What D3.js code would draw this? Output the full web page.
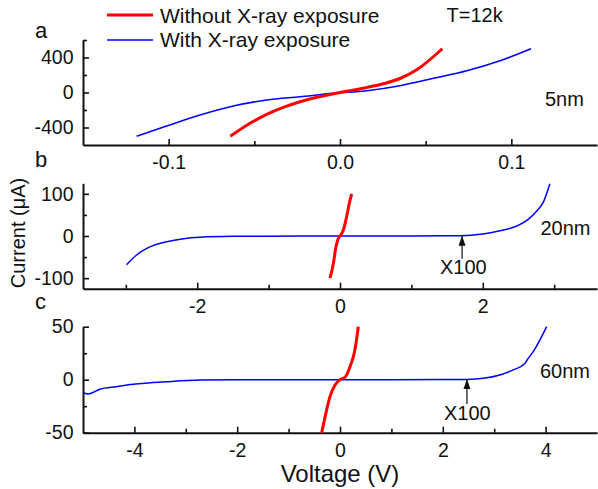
<!DOCTYPE html>
<html>
<head>
<meta charset="utf-8">
<script src="https://cdn.jsdelivr.net/npm/d3@7"></script>
<style>
  html, body { margin: 0; padding: 0; background: #fff; }
  svg { display: block; font-family: "Liberation Sans", Arial, sans-serif; }
  .axis path, .axis line { stroke: #111; }
  .axis path { stroke-width: 2; }
  .axis line { stroke-width: 1.6; }
  .axis text { font-size: 19.5px; fill: #111; font-family: "Liberation Sans", Arial, sans-serif; }
</style>
</head>
<body>
<svg id="chart" width="598" height="489"></svg>
<script>
// Panel a: 5 nm, T = 12 K
const voltA_without = [-0.064, -0.0525, -0.0428, -0.0331, -0.0233, -0.01, 0.0, 0.0058, 0.015, 0.0253, 0.035, 0.0448, 0.0597];
const currA_without = [-500, -352, -249, -169, -105, -40, 0, 20, 55, 100, 160, 260, 500];
const voltA_with = [-0.1187, -0.1012, -0.0817, -0.0623, -0.0428, -0.0233, -0.004, 0.0156, 0.035, 0.0545, 0.074, 0.0934, 0.1115];
const currA_with = [-500, -383, -257, -154, -86, -48, -9, 21, 78, 162, 249, 363, 500];

// Panel b: 20 nm (with-exposure curve multiplied by 100)
const voltB_without = [-0.14, -0.093, -0.056, -0.023, 0, 0.047, 0.093, 0.131, 0.164];
const currB_without = [-100, -65, -25, -5.5, 0, 14, 46, 78, 100];
const voltB_with = [-2.99, -2.85, -2.68, -2.43, -2.19, -1.96, -1.49, -1.0, 0, 1.0, 1.68, 2.0, 2.24, 2.43, 2.64, 2.75, 2.85, 2.94];
const currB_with = [-68, -45, -27, -13.5, -6.3, -3, -0.8, -0.3, 0, 0.2, 0.7, 5, 12.6, 20.6, 40, 58, 81, 124];

// Panel c: 60 nm (with-exposure curve multiplied by 100)
const voltC_without = [-0.356, -0.29, -0.195, -0.097, 0, 0.097, 0.195, 0.29, 0.356];
const currC_without = [-50, -35, -16, -5, 0, 2.3, 12.3, 28, 50];
const voltC_with = [-4.99, -4.9, -4.67, -4.35, -4.02, -3.37, -2.72, -2, 0, 2, 2.46, 2.79, 3.11, 3.37, 3.6, 3.64, 3.76, 3.89, 4.02];
const currC_with = [-12.3, -13.5, -9, -6.6, -4.4, -1.9, -0.3, -0.1, 0, 0.1, 0.3, 1.3, 4.4, 9.2, 15.5, 18.6, 26.4, 37.5, 50];

// Tick values
const ticksA_x = [-0.1, 0.0, 0.1], minorA_x = [-0.05, 0.05];
const ticksA_y = [-400, 0, 400], minorA_y = [-200, 200, 600];
const ticksB_x = [-2, 0, 2], minorB_x = [-3, -1, 1, 3];
const ticksB_y = [-100, 0, 100], minorB_y = [-50, 50];
const ticksC_x = [-4, -2, 0, 2, 4], minorC_x = [-3, -1, 1, 3];
const ticksC_y = [-50, 0, 50], minorC_y = [-25, 25];

const seriesNames = ["Without X-ray exposure", "With X-ray exposure"];
const colors = { without: "#ff0000", with: "#0000ff" };

// plain hyphen for negative numbers
const hyph = f => v => f(v).replace("\u2212", "-");

const svg = d3.select("#chart");
const X0 = 83, X1 = 597;

const panels = [
  { letter: "a", letterY: 37.5, xd: [-0.15, 0.15], yd: [-600, 600], yr: [145, 40],
    xt: ticksA_x, xm: minorA_x, yt: ticksA_y, ym: minorA_y, xfmt: hyph(d3.format(".1f")),
    wo: [voltA_without, currA_without], wi: [voltA_with, currA_with],
    label: "5nm", labelPos: [545, 106], arrowV: null },
  { letter: "b", letterY: 166.5, xd: [-3.6, 3.6], yd: [-125, 125], yr: [288.7, 183.3],
    xt: ticksB_x, xm: minorB_x, yt: ticksB_y, ym: minorB_y, xfmt: hyph(d3.format("d")),
    wo: [voltB_without, currB_without], wi: [voltB_with, currB_with],
    label: "20nm", labelPos: [540.5, 235], arrowV: 1.71, arrowLen: 23, x100: [440, 274] },
  { letter: "c", letterY: 309, xd: [-5, 5], yd: [-50, 50], yr: [432.7, 326.7],
    xt: ticksC_x, xm: minorC_x, yt: ticksC_y, ym: minorC_y, xfmt: hyph(d3.format("d")),
    wo: [voltC_without, currC_without], wi: [voltC_with, currC_with],
    label: "60nm", labelPos: [540, 378.3], arrowV: 2.47, arrowLen: 25, x100: [444, 420] }
];

// arrowhead marker
svg.append("defs").append("marker")
  .attr("id", "head").attr("viewBox", "0 0 10 10")
  .attr("refX", 10).attr("refY", 5)
  .attr("markerWidth", 10).attr("markerHeight", 10)
  .attr("markerUnits", "userSpaceOnUse")
  .attr("orient", "auto")
  .append("path").attr("d", "M0,1.5 L10,5 L0,8.5 Z").attr("fill", "#111");

panels.forEach(p => {
  const x = d3.scaleLinear().domain(p.xd).range([X0, X1]);
  const y = d3.scaleLinear().domain(p.yd).range(p.yr);
  const g = svg.append("g");

  // minor ticks
  g.append("g").attr("class", "axis").attr("transform", `translate(0,${p.yr[0]})`)
    .call(d3.axisBottom(x).tickValues(p.xm).tickSizeInner(-4).tickSizeOuter(0).tickFormat(""))
    .call(s => s.select(".domain").remove());
  g.append("g").attr("class", "axis").attr("transform", `translate(${X0},0)`)
    .call(d3.axisLeft(y).tickValues(p.ym).tickSizeInner(-4).tickSizeOuter(0).tickFormat(""))
    .call(s => s.select(".domain").remove());

  // major axes, ticks pointing inward
  g.append("g").attr("class", "axis").attr("transform", `translate(0,${p.yr[0]})`)
    .call(d3.axisBottom(x).tickValues(p.xt).tickSizeInner(-6).tickSizeOuter(0).tickPadding(10).tickFormat(p.xfmt));
  g.append("g").attr("class", "axis").attr("transform", `translate(${X0},0)`)
    .call(d3.axisLeft(y).tickValues(p.yt).tickSizeInner(-6).tickSizeOuter(0).tickPadding(9.5).tickFormat(hyph(d3.format("d"))));

  const line = d3.line().x(d => x(d[0])).y(d => y(d[1])).curve(d3.curveMonotoneX);
  const zipped = arr => arr[0].map((v, i) => [v, arr[1][i]]);

  g.append("path").datum(zipped(p.wi)).attr("d", line)
    .attr("fill", "none").attr("stroke", colors.with).attr("stroke-width", 1.5);
  g.append("path").datum(zipped(p.wo)).attr("d", line)
    .attr("fill", "none").attr("stroke", colors.without).attr("stroke-width", 3);

  // panel letter
  g.append("text").attr("x", 35).attr("y", p.letterY)
    .attr("font-size", 22).attr("fill", "#111").text(p.letter);
  // thickness label
  g.append("text").attr("x", p.labelPos[0]).attr("y", p.labelPos[1])
    .attr("font-size", 20).attr("fill", "#111").text(p.label);

  if (p.arrowV !== null) {
    const ax = x(p.arrowV), ay = y(0.6);
    g.append("line").attr("x1", ax).attr("x2", ax)
      .attr("y1", ay + p.arrowLen).attr("y2", ay)
      .attr("stroke", "#111").attr("stroke-width", 1.2).attr("marker-end", "url(#head)");
    g.append("text").attr("x", p.x100[0]).attr("y", p.x100[1])
      .attr("font-size", 20).attr("fill", "#111").text("X100");
  }
});

// legend
const legend = svg.append("g");
[[seriesNames[0], colors.without, 3, 15, 22.7], [seriesNames[1], colors.with, 1.5, 40, 46.7]].forEach(([name, c, w, ly, ty]) => {
  legend.append("line").attr("x1", 107).attr("x2", 153).attr("y1", ly).attr("y2", ly)
    .attr("stroke", c).attr("stroke-width", w);
  legend.append("text").attr("x", 160).attr("y", ty).attr("font-size", 21).attr("fill", "#111").text(name);
});
svg.append("text").attr("x", 446.5).attr("y", 21.7).attr("font-size", 20).attr("fill", "#111").text("T=12k");

// axis titles
svg.append("text").attr("x", 340).attr("y", 482).attr("text-anchor", "middle")
  .attr("font-size", 24).attr("fill", "#111").text("Voltage (V)");
svg.append("text").attr("transform", "translate(25,233) rotate(-90)").attr("text-anchor", "middle")
  .attr("font-size", 20).attr("fill", "#111").text("Current (μA)");
</script>
</body>
</html>
